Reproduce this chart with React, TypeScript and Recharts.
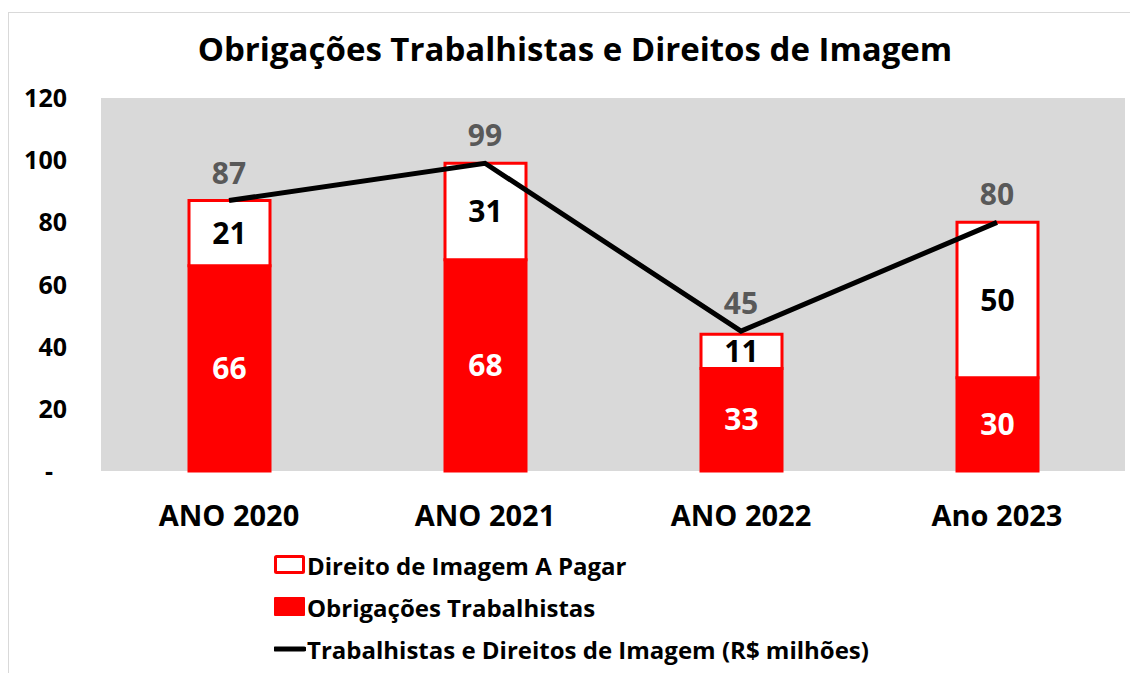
import { Bar, CartesianGrid, ComposedChart, LabelList, Legend, Line, XAxis, YAxis } from 'recharts'

const CATEGORIAS = ['ANO 2020', 'ANO 2021', 'ANO 2022', 'Ano 2023']
const OBRIGACOES = [66, 68, 33, 30]
const DIREITO_IMAGEM = [21, 31, 11, 50]
const TOTAIS = [87, 99, 45, 80]
const TICKS_Y = [0, 20, 40, 60, 80, 100, 120]

const FONTE = '"Open Sans", sans-serif'
const VERMELHO = '#ff0000'

const dados = CATEGORIAS.map((categoria, i) => ({
  categoria,
  obrigacoes: OBRIGACOES[i],
  direito: DIREITO_IMAGEM[i],
  total: TOTAIS[i],
}))

function TickY({ x, y, payload }: any) {
  const zero = payload.value === 0
  return (
    <text
      x={zero ? x - 14 : x}
      y={y}
      dy={9}
      textAnchor="end"
      fontFamily={FONTE}
      fontWeight={700}
      fontSize={25}
      fill="#000"
    >
      {zero ? '-' : payload.value}
    </text>
  )
}

function Legenda() {
  const itens = [
    { nome: 'Direito de Imagem A Pagar', tipo: 'vazio' },
    { nome: 'Obrigações Trabalhistas', tipo: 'cheio' },
    { nome: 'Trabalhistas e Direitos de Imagem (R$ milhões)', tipo: 'linha' },
  ]
  return (
    <div style={{ fontFamily: FONTE, fontWeight: 700, fontSize: 24, color: '#000', whiteSpace: 'nowrap' }}>
      {itens.map((item) => (
        <div key={item.nome} style={{ display: 'flex', alignItems: 'center', height: 42 }}>
          <svg width={32} height={20} style={{ marginRight: 1 }}>
            {item.tipo === 'vazio' && (
              <rect x={1.5} y={1.5} width={28} height={16} fill="#fff" stroke={VERMELHO} strokeWidth={3} rx={1} />
            )}
            {item.tipo === 'cheio' && <rect x={0} y={0} width={31} height={19} fill={VERMELHO} rx={1} />}
            {item.tipo === 'linha' && <line x1={1} x2={30} y1={10} y2={10} stroke="#000" strokeWidth={5} strokeLinecap="round" />}
          </svg>
          <span>{item.nome}</span>
        </div>
      ))}
    </div>
  )
}

export default function App() {
  return (
    <div style={{ position: 'absolute', left: 0, top: 0, width: 1130, height: 673, background: '#fff', overflow: 'hidden' }}>
      <div
        style={{
          position: 'absolute',
          left: 8,
          top: 12,
          width: 1140,
          height: 700,
          border: '1px solid #d9d9d9',
        }}
      />
      <div
        style={{
          position: 'absolute',
          left: 0,
          top: 26,
          width: 1150,
          textAlign: 'center',
          fontFamily: FONTE,
          fontWeight: 700,
          fontSize: 33,
          color: '#000',
        }}
      >
        Obrigações Trabalhistas e Direitos de Imagem
      </div>
      <ComposedChart
        width={1130}
        height={673}
        data={dados}
        margin={{ top: 98, right: 5, bottom: 142, left: 0 }}
        barSize={81}
        style={{ position: 'absolute', left: 0, top: 0 }}
      >
        <CartesianGrid fill="#d9d9d9" horizontal={false} vertical={false} stroke="none" />
        <XAxis
          dataKey="categoria"
          axisLine={false}
          tickLine={false}
          tickSize={0}
          tickMargin={34}
          height={60}
          tick={{ fontFamily: FONTE, fontWeight: 700, fontSize: 29, fill: '#000' }}
        />
        <YAxis
          width={101}
          domain={[0, 120]}
          ticks={TICKS_Y}
          axisLine={false}
          tickLine={false}
          tickSize={0}
          tickMargin={34}
          tick={<TickY />}
        />
        <Bar dataKey="obrigacoes" stackId="a" fill={VERMELHO} stroke={VERMELHO} strokeWidth={3} isAnimationActive={false}>
          <LabelList
            dataKey="obrigacoes"
            position="center"
            fill="#fff"
            fontFamily={FONTE}
            fontWeight={700}
            fontSize={30}
          />
        </Bar>
        <Bar dataKey="direito" stackId="a" fill="#fff" stroke={VERMELHO} strokeWidth={3} isAnimationActive={false}>
          <LabelList
            dataKey="direito"
            position="center"
            fill="#000"
            fontFamily={FONTE}
            fontWeight={700}
            fontSize={30}
          />
        </Bar>
        <Line
          dataKey="total"
          stroke="#000"
          strokeWidth={5}
          dot={false}
          activeDot={false}
          isAnimationActive={false}
        >
          <LabelList
            dataKey="total"
            position="top"
            offset={17}
            fill="#595959"
            fontFamily={FONTE}
            fontWeight={700}
            fontSize={30}
          />
        </Line>
        <Legend
          layout="vertical"
          align="center"
          verticalAlign="middle"
          content={<Legenda />}
          wrapperStyle={{ left: 274, top: 544, width: 800 }}
        />
      </ComposedChart>
    </div>
  )
}
